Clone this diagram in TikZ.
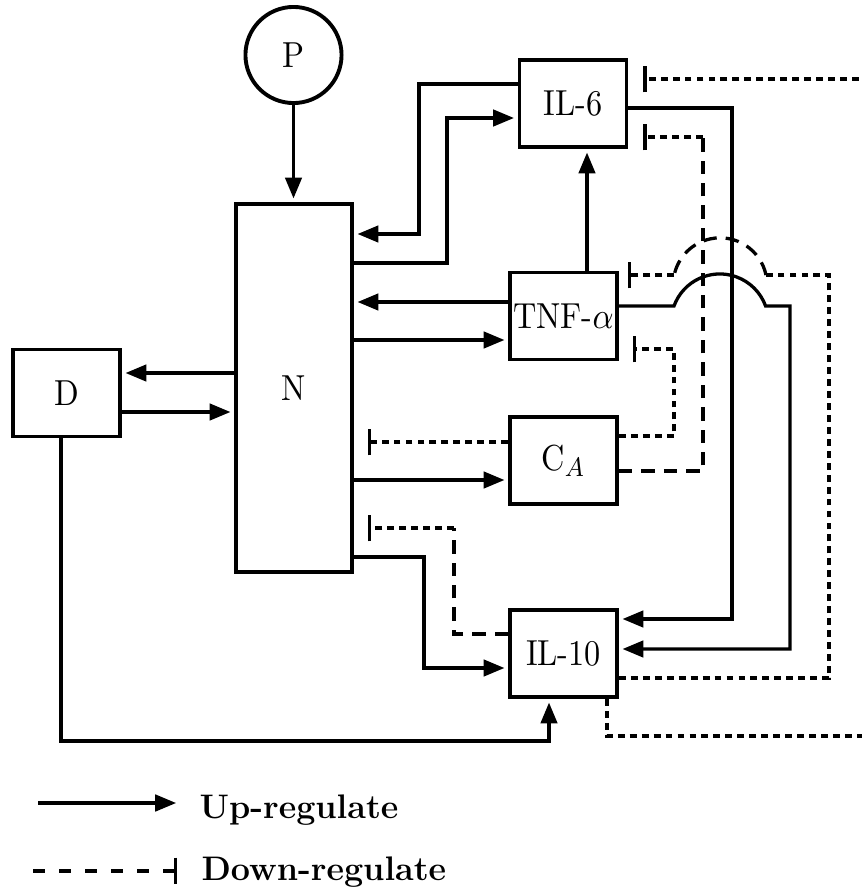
\documentclass[tikz,border=0pt]{standalone}
\usepackage{amsmath}
\usepackage{graphicx}
\usepackage{tikz}
\usetikzlibrary{arrows.meta}

\newcommand{\etich}[1]{\scalebox{1}[1.12]{#1}}

\begin{document}
\begin{tikzpicture}[x=0.11759cm, y=-0.11759cm, font=\fontsize{10.8}{13}\selectfont,
    blocco/.style={draw, line width=1.3pt, inner sep=0pt, minimum width=1.258cm, minimum height=1.023cm},
    up/.style={line width=1.1pt, -{Triangle[length=7pt, width=5.5pt]}, shorten >=1.2pt},
    down/.style={line width=1.1pt, dash pattern=on 2.3pt off 1.7pt},
    downl/.style={line width=1.1pt, dash pattern=on 4.5pt off 3pt},
    barra/.style={-{Bar[width=9pt]}},
    legenda/.style={anchor=base west, font=\fontsize{11.4}{14}\selectfont\bfseries}]

    \useasboundingbox (0,0) rectangle (86.1,88.9);

    % Nodi
    \node[draw, circle, line width=1.3pt, minimum size=1.13cm] (P) at (29.35,5.5) {\etich{P}};
    \node[blocco, minimum width=1.364cm, minimum height=4.327cm] (N) at (29.4,38.8) {\etich{N}};
    \node[blocco] (D) at (6.65,39.3) {\etich{D}};
    \node[blocco] (IL6) at (57.3,10.35) {\etich{IL-6}};
    \node[blocco] (TNF) at (56.35,31.6) {\etich{TNF-$\alpha$}};
    \node[blocco] (CA) at (56.35,46.05) {\etich{C$_A$}};
    \node[blocco] (IL10) at (56.35,65.35) {\etich{IL-10}};

    % P e D
    \draw[up] (P.south) -- (P.south |- N.north);
    \draw[up] (N.west |- 0,37.3) -- (D.east |- 0,37.3);
    \draw[up] (D.east |- 0,41.2) -- (N.west |- 0,41.2);
    \draw[up] (D.south -| 6.1,0) |- (54.9,74.1) -- (IL10.south -| 54.9,0);

    % IL-6
    \draw[up] (IL6.west |- 0,8.4) -| (41.9,23.4) -- (N.east |- 0,23.4);
    \draw[up] (N.east |- 0,26.3) -| (44.7,11.8) -- (IL6.west |- 0,11.8);
    \draw[up] (IL6.east |- 0,10.8) -| (73.2,61.9) -- (IL10.east |- 0,61.9);

    % TNF-alpha
    \draw[up] (TNF.north -| 58.7,0) -- (IL6.south -| 58.7,0);
    \draw[up] (TNF.west |- 0,30.2) -- (N.east |- 0,30.2);
    \draw[up] (N.east |- 0,34.0) -- (TNF.west |- 0,34.0);
    \draw[up] (TNF.east |- 0,30.6) -- (67.4,30.6)
        arc[start angle=160, end angle=20, radius=16.3pt] -| (79.0,64.9) -- (IL10.east |- 0,64.9);

    % C_A
    \draw[down, barra, shorten >=4.7pt] (CA.west |- 0,44.2) -- (N.east |- 0,44.2);
    \draw[up] (N.east |- 0,48.0) -- (CA.west |- 0,48.0);
    \draw[down, barra, shorten >=4.7pt] (CA.east |- 0,43.6) -| (67.4,34.9) -- (TNF.east |- 0,34.9);
    \draw[downl] (CA.east |- 0,47.1) -| (70.3,13.7) coordinate (k2);
    \draw[down, barra, shorten >=5pt] (k2) -- (IL6.east |- k2);

    % IL-10
    \draw[up] (N.east |- 0,55.7) -| (42.4,66.8) -- (IL10.west |- 0,66.8);
    \draw[downl] (IL10.west |- 0,63.4) -| (45.4,52.8) coordinate (k1);
    \draw[down, barra, shorten >=4.7pt] (k1) -- (N.east |- k1);
    \draw[down] (IL10.east |- 0,67.8) -| (82.9,27.5) -- (76.6,27.5) coordinate (h1);
    \draw[downl] (h1) arc[start angle=12, end angle=168, radius=15.7pt] coordinate (h2);
    \draw[down, barra, shorten >=3pt] (h2) -- (TNF.east |- h2);
    \draw[down, barra, shorten >=5pt] (IL10.south -| 60.7,0) |- (90,73.6) |- (IL6.east |- 0,7.9);

    % Legenda
    \node[legenda] (lup) at (18.9,81.8) {Up-regulate};
    \coordinate (lup0) at (3.8,80.3);
    \draw[up, shorten >=4.3pt] (lup0) -- (lup0 -| lup.west);
    \node[legenda] (ldown) at (19.1,88.0) {Down-regulate};
    \coordinate (ldown0) at (3.3,87.1);
    \draw[line width=1.1pt, dash pattern=on 4pt off 4.7pt, barra, shorten >=4.6pt] (ldown0) -- (ldown0 -| ldown.west);
\end{tikzpicture}
\end{document}
